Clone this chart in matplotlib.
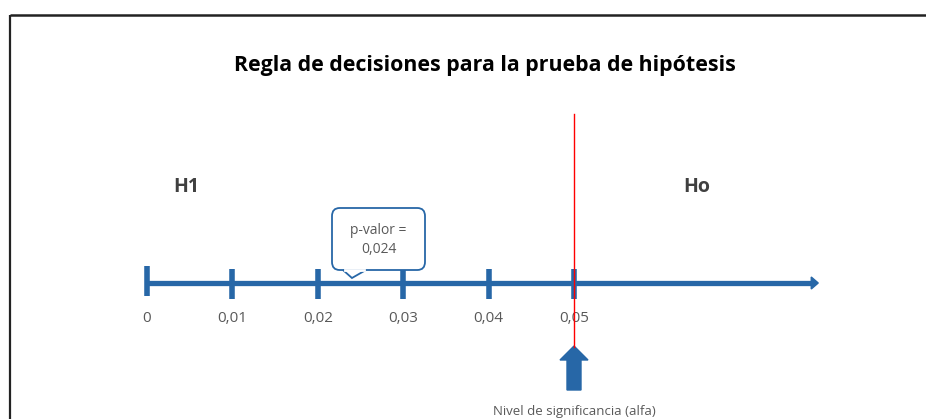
import matplotlib
matplotlib.use("Agg")
import matplotlib.pyplot as plt
from matplotlib.patches import FancyBboxPatch, Polygon

# ---- data ----
tick_values = [0, 0.01, 0.02, 0.03, 0.04, 0.05]
tick_labels = ["0", "0,01", "0,02", "0,03", "0,04", "0,05"]
p_value = 0.024
p_label = "p-valor =\n0,024"
alpha = 0.05
alpha_label = "Nivel de significancia (alfa)"
title = "Regla de decisiones para la prueba de hipótesis"
region_labels = ["H1", "Ho"]
region_x = [0.0046, 0.0644]
axis_end = 0.0786

BLUE = "#2767A7"
GRAY = "#404040"
TXT = "#595959"
FONT = ["Open Sans", "DejaVu Sans"]

fig = plt.figure(figsize=(9.26, 4.19), dpi=100)
ax = fig.add_axes([0, 0, 1, 1])
px = 0.01 / 85.4          # data units per pixel horizontally
x_left = -147 * px
ax.set_xlim(x_left, x_left + 926 * px)
ax.set_ylim(419, 0)
ax.axis("off")

# frame border (top and left)
ax.plot([x_left + 10 * px] * 2, [15, 419], color="#222222", lw=1.6, solid_capstyle="butt")
ax.plot([x_left + 10 * px, x_left + 930 * px], [15, 15], color="#222222", lw=1.8,
        solid_capstyle="butt")

# title
ax.text(x_left + 485 * px, 66, title, ha="center", va="center",
        fontsize=15.4, fontweight="bold", family=FONT, color="black")

# H1 / Ho
for lab, x in zip(region_labels, region_x):
    ax.text(x, 187, lab, ha="center", va="center", fontsize=14, fontweight="bold",
            family=FONT, color=GRAY)

# main axis line with arrow
ax.plot([tick_values[0], axis_end - 6 * px], [283, 283], color=BLUE, lw=3.8,
        solid_capstyle="butt", zorder=3)
ax.add_patch(Polygon([[axis_end - 7 * px, 277], [axis_end, 283], [axis_end - 7 * px, 289]],
                     closed=True, color=BLUE, zorder=3))

# ticks and labels
for i, (v, lab) in enumerate(zip(tick_values, tick_labels)):
    y0, y1 = (266, 296) if i == 0 else (269, 299)
    ax.plot([v, v], [y0, y1], color=BLUE, lw=4, solid_capstyle="butt", zorder=3)
    ax.text(v, 318, lab, ha="center", va="center", fontsize=11, family=FONT, color=TXT)

# red significance line
ax.plot([alpha, alpha], [114, 347], color="#FF0000", lw=1.0, zorder=4)

# up arrow
ax.add_patch(Polygon([[alpha, 346], [alpha + 14 * px, 360], [alpha + 7 * px, 360],
                      [alpha + 7 * px, 390], [alpha - 7 * px, 390], [alpha - 7 * px, 360],
                      [alpha - 14 * px, 360]], closed=True, color=BLUE, zorder=3))
ax.text(alpha, 411, alpha_label, ha="center", va="center", fontsize=9.5, family=FONT,
        color=TXT)

# callout for p-value
x0 = x_left + 332 * px
x1 = x_left + 425 * px
by0, by1 = 208, 270
box = FancyBboxPatch((x0, by0), x1 - x0, by1 - by0,
                     boxstyle="round,pad=0,rounding_size=0.0009",
                     mutation_aspect=9000,
                     facecolor="white", edgecolor=BLUE, lw=1.3, zorder=5)
ax.add_patch(box)
ax.add_patch(Polygon([[p_value - 9 * px, by1], [p_value, 278], [p_value + 14 * px, by1]],
                     closed=False, facecolor="white", edgecolor=BLUE, lw=1.3, zorder=6))
ax.plot([p_value - 7 * px, p_value + 12 * px], [by1, by1], color="white", lw=2, zorder=7)
ax.text(0.5 * (x0 + x1), 240, p_label, ha="center", va="center", fontsize=10,
        family=FONT, color=TXT, linespacing=1.35, zorder=8)

fig.savefig("out.png", dpi=100)
